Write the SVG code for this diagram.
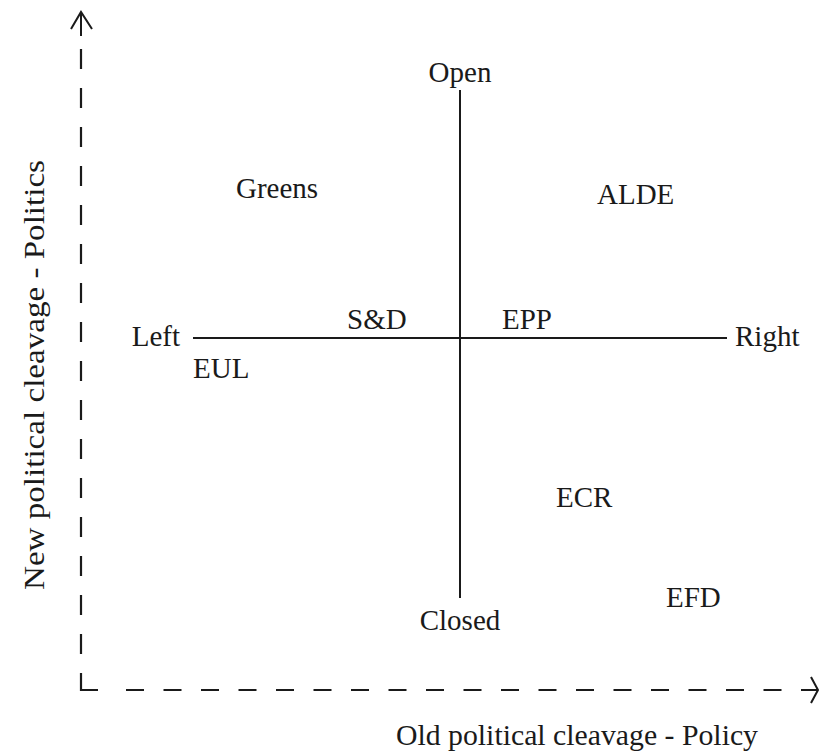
<svg xmlns="http://www.w3.org/2000/svg" width="819" height="753" viewBox="0 0 819 753">
<style>
text{font-family:"Liberation Serif","Times New Roman",serif;font-size:29px;fill:#1a1a1a}
.ax{stroke:#1a1a1a;stroke-width:2;fill:none}
.dash{stroke:#1a1a1a;stroke-width:2.2;fill:none}
</style>
<rect width="819" height="753" fill="#fff"/>
<g id="connectors">
<path class="dash" d="M81,49 V673" stroke-dasharray="20 19"/>
<path class="dash" d="M81,673 V690 H98"/>
<path class="dash" d="M126,690 H785" stroke-dasharray="18 19.5"/>
<path class="ax" d="M81,36 V13 M71,29 L81,12 L92,29"/>
<path class="ax" d="M801,690 H818 M811,677 L818,690 L811,703"/>
<path class="ax" d="M460,90 V598"/>
<path class="ax" d="M193,338 H727"/>
</g>
<g id="open"><text x="460" y="82" text-anchor="middle">Open</text></g>
<g id="closed"><text x="460" y="630" text-anchor="middle">Closed</text></g>
<g id="left"><text x="180" y="346" text-anchor="end">Left</text></g>
<g id="right"><text x="735" y="346">Right</text></g>
<g id="greens"><text x="236" y="198">Greens</text></g>
<g id="alde"><text x="597" y="204">ALDE</text></g>
<g id="sd"><text x="347" y="329">S&amp;D</text></g>
<g id="epp"><text x="502" y="329">EPP</text></g>
<g id="eul"><text x="193" y="378">EUL</text></g>
<g id="ecr"><text x="556" y="507">ECR</text></g>
<g id="efd"><text x="666" y="607">EFD</text></g>
<g id="ylabel"><text transform="translate(44,375) rotate(-90)" text-anchor="middle" textLength="430" lengthAdjust="spacingAndGlyphs">New political cleavage - Politics</text></g>
<g id="xlabel"><text x="577" y="745" text-anchor="middle" textLength="362" lengthAdjust="spacingAndGlyphs">Old political cleavage - Policy</text></g>
</svg>
